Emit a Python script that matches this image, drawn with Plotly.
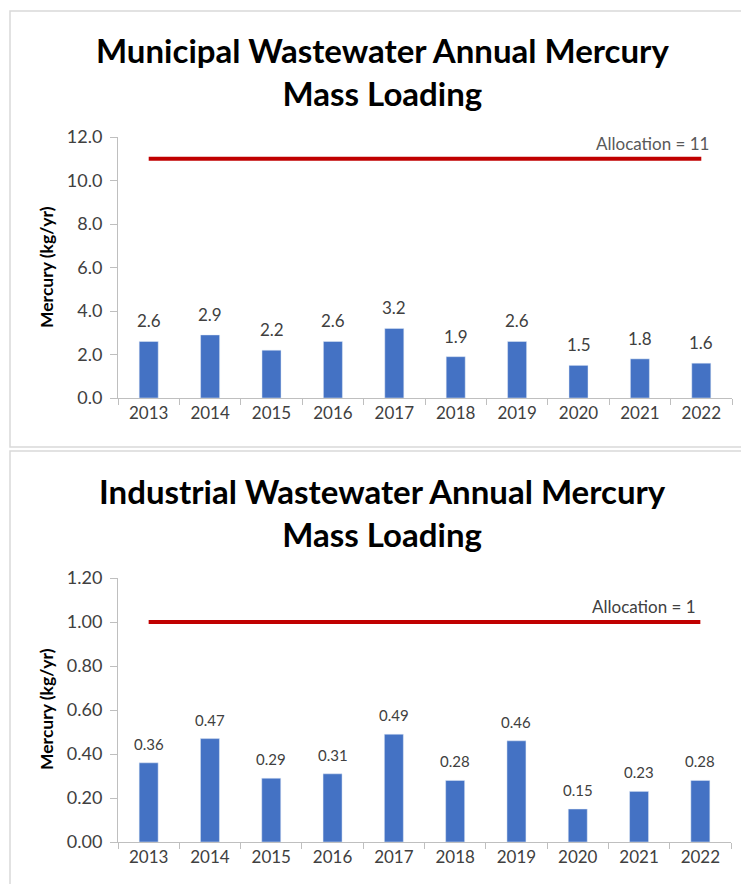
import plotly.graph_objects as go

years = ["2013", "2014", "2015", "2016", "2017", "2018", "2019", "2020", "2021", "2022"]
municipal = [2.6, 2.9, 2.2, 2.6, 3.2, 1.9, 2.6, 1.5, 1.8, 1.6]
industrial = [0.36, 0.47, 0.29, 0.31, 0.49, 0.28, 0.46, 0.15, 0.23, 0.28]
municipal_alloc = 11
industrial_alloc = 1
titles = ["Municipal Wastewater Annual Mercury<br>Mass Loading",
          "Industrial Wastewater Annual Mercury<br>Mass Loading"]
y_title = "Mercury (kg/yr)"

W, H = 741, 884
FONT = "Lato"
BAR = "#4472C4"
RED = "#C00000"
GRAY = "#595959"
DARK = "#404040"
AX = "#BFBFBF"

def px(x):
    return x / W

def py(y):
    return 1 - y / H

fig = go.Figure()

# top chart
fig.add_trace(go.Bar(x=years, y=municipal, marker_color=BAR, xaxis="x", yaxis="y",
                     showlegend=False, hoverinfo="x+y"))
fig.add_trace(go.Scatter(x=[years[0], years[-1]], y=[municipal_alloc] * 2, mode="lines",
                         line=dict(color=RED, width=4), xaxis="x", yaxis="y", showlegend=False))
# bottom chart
fig.add_trace(go.Bar(x=years, y=industrial, marker_color=BAR, xaxis="x2", yaxis="y2",
                     showlegend=False, hoverinfo="x+y"))
fig.add_trace(go.Scatter(x=[years[0], years[-1]], y=[industrial_alloc] * 2, mode="lines",
                         line=dict(color=RED, width=4), xaxis="x2", yaxis="y2", showlegend=False))

ann = []
# category axes: annotation x given as category index (position of each year in the list)
for i, v in enumerate(municipal):
    ann.append(dict(x=i, y=v, xref="x", yref="y", text=f"{v:.1f}", showarrow=False,
                    yanchor="bottom", yshift=8, font=dict(family=FONT, size=17, color=DARK)))
for i, v in enumerate(industrial):
    ann.append(dict(x=i, y=v, xref="x2", yref="y2", text=f"{v:.2f}", showarrow=False,
                    yanchor="bottom", yshift=8, font=dict(family=FONT, size=15, color=DARK)))

ann.append(dict(x=px(711), y=municipal_alloc, xref="paper", yref="y", text=f"Allocation = {municipal_alloc}",
                showarrow=False, xanchor="right", yanchor="bottom", yshift=3,
                font=dict(family=FONT, size=17, color=GRAY)))
ann.append(dict(x=px(698), y=industrial_alloc, xref="paper", yref="y2", text=f"Allocation = {industrial_alloc}",
                showarrow=False, xanchor="right", yanchor="bottom", yshift=3,
                font=dict(family=FONT, size=17, color=DARK)))

ann.append(dict(x=px(382), y=py(71), xref="paper", yref="paper", text="<b>" + titles[0] + "</b>",
                showarrow=False, xanchor="center", yanchor="middle",
                font=dict(family=FONT, size=33, color="black")))
ann.append(dict(x=px(382), y=py(512), xref="paper", yref="paper", text="<b>" + titles[1] + "</b>",
                showarrow=False, xanchor="center", yanchor="middle",
                font=dict(family=FONT, size=33, color="black")))

ann.append(dict(x=px(46), y=py(267), xref="paper", yref="paper", text="<b>" + y_title + "</b>",
                showarrow=False, textangle=-90, xanchor="center", yanchor="middle",
                font=dict(family=FONT, size=17.5, color="black")))
ann.append(dict(x=px(46), y=py(709), xref="paper", yref="paper", text="<b>" + y_title + "</b>",
                showarrow=False, textangle=-90, xanchor="center", yanchor="middle",
                font=dict(family=FONT, size=17.5, color="black")))

shapes = [
    dict(type="rect", xref="paper", yref="paper", x0=px(10), x1=px(750), y0=py(447), y1=py(11),
         line=dict(color="#D9D9D9", width=1.5)),
    dict(type="rect", xref="paper", yref="paper", x0=px(10), x1=px(750), y0=py(895), y1=py(451),
         line=dict(color="#D9D9D9", width=1.5)),
]

xcommon = dict(type="category", showgrid=False, showline=True, linecolor=AX, linewidth=1,
               ticks="outside", tickson="boundaries", ticklen=6, tickcolor=AX, tickangle=0,
               range=[-0.5, len(years) - 0.5], automargin=False,
               tickfont=dict(family=FONT, size=17, color=DARK), fixedrange=True)
ycommon = dict(showgrid=False, showline=True, linecolor=AX, linewidth=1, ticks="outside",
               ticklen=7, tickcolor=AX, tickfont=dict(family=FONT, size=18, color=DARK),
               ticklabelstandoff=4, zeroline=False, fixedrange=True, automargin=False)

fig.update_layout(
    width=W, height=H, autosize=False,
    margin=dict(l=0, r=0, t=0, b=0, pad=0, autoexpand=False),
    paper_bgcolor="white", plot_bgcolor="white",
    bargap=0.69,
    xaxis=dict(domain=[px(118), px(732)], anchor="y", **xcommon),
    yaxis=dict(domain=[py(398), py(137)], anchor="x", range=[0, 12], dtick=2, tickformat=".1f", **ycommon),
    xaxis2=dict(domain=[px(118), px(731)], anchor="y2", **xcommon),
    yaxis2=dict(domain=[py(842), py(578)], anchor="x2", range=[0, 1.2], dtick=0.2, tickformat=".2f", **ycommon),
    annotations=ann,
    shapes=shapes,
    font=dict(family=FONT),
)

fig.write_html("out.html", config=dict(displayModeBar=False),
               post_script="document.body.style.margin='0';document.body.style.overflow='hidden';")
